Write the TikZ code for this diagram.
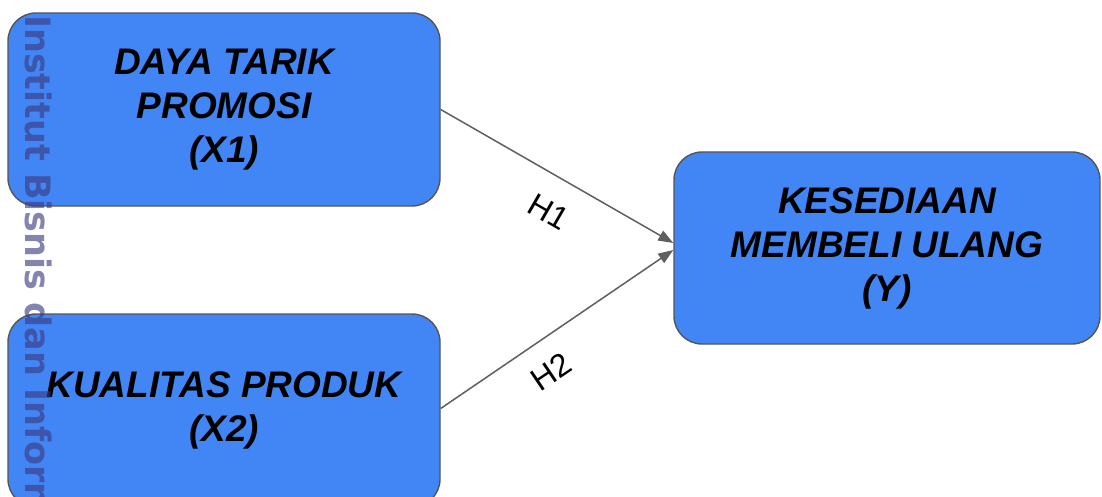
\documentclass[tikz,border=0pt]{standalone}
\usepackage{fontspec}
\setmainfont{Liberation Sans}
\newfontfamily\wmfont{DejaVu Sans}
\usetikzlibrary{arrows.meta}
\definecolor{boxblue}{HTML}{4285F4}
\definecolor{boxedge}{HTML}{555555}
\definecolor{arrgray}{HTML}{5F5F5F}
\definecolor{wmcol}{HTML}{3A3A80}
\tikzset{
  varbox/.style={draw=boxedge, line width=1.4pt, fill=boxblue, rounded corners=28pt,
    align=center, inner sep=0pt,
    font=\fontsize{37}{44}\selectfont\bfseries\itshape},
  hyparrow/.style={draw=arrgray, line width=1.5pt, -{Triangle[length=15pt,width=11pt]}},
  hyplabel/.style={font=\fontsize{32}{34}\selectfont, text=black, inner sep=0pt}
}
\begin{document}
\begin{tikzpicture}[x=1pt,y=-1pt]
\clip (0,0) rectangle (1102,497);
\fill[white] (0,0) rectangle (1102,497);
\node[varbox, minimum width=432pt, minimum height=193pt] (x1) at (224,109.5) {DAYA TARIK\\PROMOSI\\(X1)};
\node[varbox, minimum width=432pt, minimum height=193pt] (x2) at (224,410.5) {KUALITAS PRODUK\\(X2)};
\node[varbox, minimum width=426pt, minimum height=192pt] (y) at (887,248) {KESEDIAAN\\MEMBELI ULANG\\(Y)};
\draw[hyparrow] (x1.east) -- ([yshift=5pt]y.west);
\draw[hyparrow] ([yshift=2pt]x2.east) -- ([yshift=-2pt]y.west);
\node[hyplabel, rotate=-30] (h1) at (549,212) {H1};
\node[hyplabel, rotate=34] (h2) at (551,372) {H2};
\node[font=\wmfont\bfseries\fontsize{35}{38}\selectfont, text=wmcol, opacity=0.62,
  rotate=-90, anchor=base west, inner sep=0pt] (wm) at (25,15) {Institut Bisnis dan Informatika};
\end{tikzpicture}
\end{document}
